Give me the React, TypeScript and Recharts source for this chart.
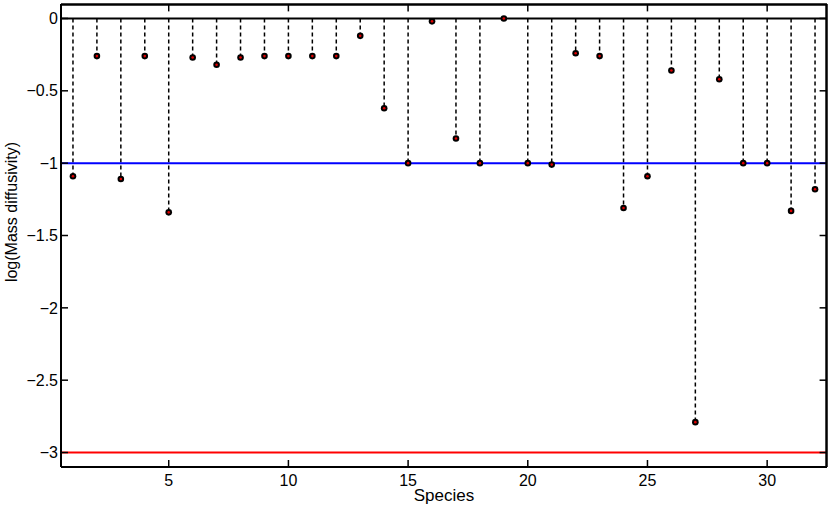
import React from 'react';
import { ComposedChart, XAxis, YAxis, Scatter, ReferenceLine } from 'recharts';

const species = [1, 2, 3, 4, 5, 6, 7, 8, 9, 10, 11, 12, 13, 14, 15, 16, 17, 18, 19, 20, 21, 22, 23, 24, 25, 26, 27, 28, 29, 30, 31, 32];
const logDiffusivity = [
  -1.09, -0.26, -1.11, -0.26, -1.34, -0.27, -0.32, -0.27, -0.26, -0.26, -0.26, -0.26, -0.12, -0.62, -1.0, -0.02,
  -0.83, -1.0, 0.0, -1.0, -1.01, -0.24, -0.26, -1.31, -1.09, -0.36, -2.79, -0.42, -1.0, -1.0, -1.33, -1.18,
];
const xTicks = [5, 10, 15, 20, 25, 30];
const yTicks = [-3, -2.5, -2, -1.5, -1, -0.5, 0];
const xDomain: [number, number] = [0.5, 32.5];
const yDomain: [number, number] = [-3.1, 0.1];
const upperLimit = -1;
const lowerLimit = -3;

const FONT = '"Liberation Sans", Arial, Helvetica, sans-serif';
const fmt = (v: number) => (v < 0 ? '\u2212' + String(Math.abs(v)) : String(v));

// frame edges nudged a hair inside the domain so they are never discarded
const TOP_EDGE = yDomain[1] - 0.003;
const RIGHT_EDGE = xDomain[1] - 0.02;
// inward tick lengths for the top/right frame, in axis units (~7px)
const X_TICK_LEN = 0.29;
const Y_TICK_LEN = 0.048;

const Marker = (props: any) => {
  const { cx, cy } = props;
  if (cx == null || cy == null) return null;
  return (
    <g>
      <circle cx={cx} cy={cy} r={3.3} fill="#000" />
      <circle cx={cx} cy={cy} r={1.3} fill="#e00000" />
    </g>
  );
};

const axisLine = { stroke: '#000', strokeWidth: 2 };
const tickLine = { stroke: '#000', strokeWidth: 1.5 };

export default function App() {
  const data = species.map((s, i) => ({ species: s, value: logDiffusivity[i] }));
  return (
    <div style={{ position: 'absolute', left: 0, top: 0, background: '#fff' }}>
      <ComposedChart width={831} height={509} data={data} margin={{ top: 4, right: 4, bottom: 0, left: 0 }}>
        <XAxis
          dataKey="species"
          type="number"
          domain={xDomain}
          ticks={xTicks}
          interval={0}
          allowDataOverflow
          height={42}
          axisLine={axisLine}
          tickSize={-7}
          tickMargin={15}
          tickLine={tickLine}
          tick={{ fontSize: 16, fill: '#000', fontFamily: FONT }}
          label={() => (
            <text x={444} y={501} textAnchor="middle" fontSize={17} fontFamily={FONT} fill="#000">
              Species
            </text>
          )}
        />
        <YAxis
          type="number"
          domain={yDomain}
          ticks={yTicks}
          interval={0}
          allowDataOverflow
          width={61}
          axisLine={axisLine}
          tickSize={-7}
          tickMargin={10}
          tickLine={tickLine}
          tick={{ fontSize: 16, fill: '#000', fontFamily: FONT }}
          tickFormatter={fmt}
          label={() => (
            <text
              transform="translate(17,212) rotate(-90)"
              textAnchor="middle"
              fontSize={16}
              fontFamily={FONT}
              fill="#000"
            >
              log(Mass diffusivity)
            </text>
          )}
        />
        {data.map((d) => (
          <ReferenceLine
            key={'stem' + d.species}
            segment={[
              { x: d.species, y: 0 },
              { x: d.species, y: d.value },
            ]}
            stroke="#000"
            strokeWidth={1.5}
            strokeDasharray="4 3"
          />
        ))}
        <ReferenceLine y={0} stroke="#000" strokeWidth={2} />
        <ReferenceLine y={upperLimit} stroke="#0000ff" strokeWidth={2} />
        <ReferenceLine y={lowerLimit} stroke="#ff0000" strokeWidth={2} />
        <ReferenceLine y={TOP_EDGE} stroke="#000" strokeWidth={2.5} />
        <ReferenceLine x={RIGHT_EDGE} stroke="#000" strokeWidth={2.5} />
        {xTicks.map((t) => (
          <ReferenceLine
            key={'tt' + t}
            segment={[
              { x: t, y: TOP_EDGE },
              { x: t, y: TOP_EDGE - Y_TICK_LEN },
            ]}
            stroke="#000"
            strokeWidth={1.5}
          />
        ))}
        {yTicks.map((t) => (
          <ReferenceLine
            key={'rt' + t}
            segment={[
              { x: RIGHT_EDGE, y: t },
              { x: RIGHT_EDGE - X_TICK_LEN, y: t },
            ]}
            stroke="#000"
            strokeWidth={1.5}
          />
        ))}
        <Scatter dataKey="value" shape={Marker} isAnimationActive={false} />
      </ComposedChart>
    </div>
  );
}
